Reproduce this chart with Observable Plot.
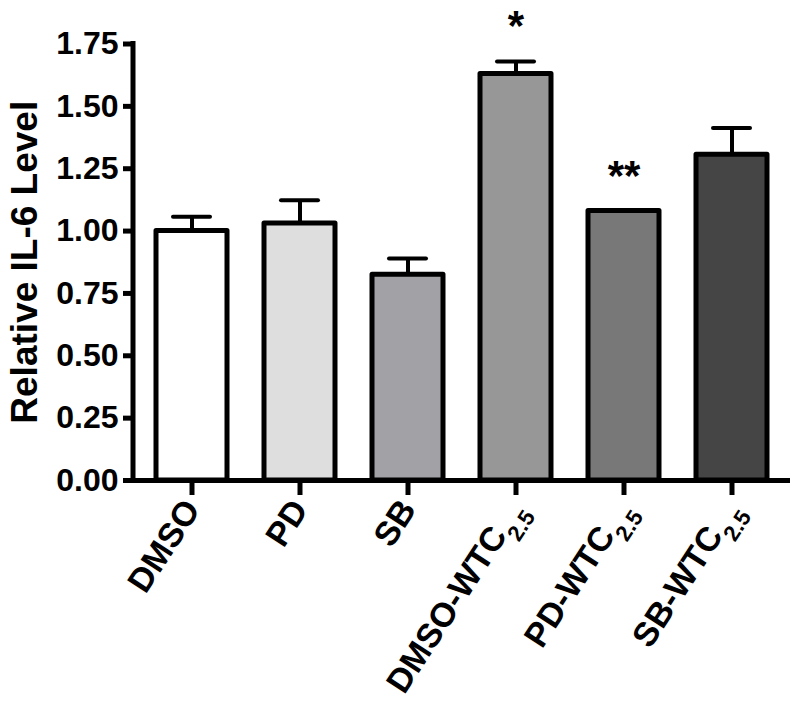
<!DOCTYPE html>
<html>
<head>
<meta charset="utf-8">
<script src="https://cdn.jsdelivr.net/npm/d3@7"></script>
<script src="https://cdn.jsdelivr.net/npm/@observablehq/plot@0.6"></script>
<style>
  html, body { margin: 0; padding: 0; background: #fff; }
</style>
</head>
<body>
<div id="chart"></div>
<script>
// ---- data ----
const categories = ["DMSO", "PD", "SB", "DMSO-WTC2.5", "PD-WTC2.5", "SB-WTC2.5"];
const values     = [1.00, 1.03, 0.825, 1.63, 1.08, 1.306];
const errors     = [0.057, 0.094, 0.065, 0.05, 0, 0.107];
const fills      = ["#ffffff", "#dedede", "#a2a2a6", "#979797", "#787878", "#454545"];
const signif     = ["", "", "", "*", "**", ""];
const yTicks     = [0, 0.25, 0.5, 0.75, 1.0, 1.25, 1.5, 1.75];
const yTitle     = "Relative IL-6 Level";

const rows = categories.map((c, i) => ({
  cat: c, value: values[i], err: errors[i], fill: fills[i], sig: signif[i],
  top: values[i] + errors[i]
}));
const errRows = rows.filter(d => d.err > 0);
const sigRows = rows.filter(d => d.sig !== "");

const FONT = "'Liberation Sans', Arial, Helvetica, sans-serif";

const yAxisLine = (index, scales, values, dims) => {
  const line = document.createElementNS("http://www.w3.org/2000/svg", "line");
  const x = dims.marginLeft;
  line.setAttribute("x1", x);
  line.setAttribute("x2", x);
  line.setAttribute("y1", scales.y(yTicks[yTicks.length - 1]));
  line.setAttribute("y2", scales.y(0));
  line.setAttribute("stroke", "black");
  line.setAttribute("stroke-width", 5);
  line.setAttribute("stroke-linecap", "square");
  return line;
};

const chart = Plot.plot({
  width: 800,
  height: 717,
  marginLeft: 133,
  marginRight: 10,
  marginTop: 43.5,
  marginBottom: 237,
  style: { fontFamily: FONT, fontWeight: "bold", background: "#fff", overflow: "visible" },
  x: { domain: categories, paddingInner: 0.34, paddingOuter: 0.185, label: null },
  y: { domain: [0, 1.75], label: null },
  marks: [
    Plot.barY(rows, {
      x: "cat", y: "value", fill: "fill",
      stroke: "black", strokeWidth: 5, strokeLinejoin: "round"
    }),
    Plot.ruleX(errRows, { x: "cat", y1: "value", y2: "top", stroke: "black", strokeWidth: 4 }),
    Plot.tickY(errRows, { x: "cat", y: "top", stroke: "black", strokeWidth: 4,
      strokeLinecap: "round", insetLeft: 17, insetRight: 17 }),
    Plot.text(sigRows, { x: "cat", y: "top", text: "sig", dy: -35, lineAnchor: "middle",
      fontSize: 42, fontWeight: "bold", fill: "black" }),
    Plot.ruleY([0], { stroke: "black", strokeWidth: 5 }),
    yAxisLine,
    Plot.axisY({ ticks: yTicks, tickFormat: d3.format(".2f"), tickSize: 10, tickPadding: 5,
      strokeWidth: 5, fontSize: 32, fontWeight: "bold", fill: "black", stroke: "black", label: null }),
    Plot.axisX({ tickSize: 15, tickPadding: 8, tickRotate: -57, strokeWidth: 5,
      fontSize: 34, fontWeight: "bold", fill: "black", stroke: "black", label: null }),
    Plot.text([yTitle], { frameAnchor: "left", dx: -123, rotate: -90, lineAnchor: "top",
      textAnchor: "middle", fontSize: 37, fontWeight: "bold", fill: "black" })
  ]
});

// render "WTC2.5" with a subscript
d3.select(chart).selectAll("text").each(function () {
  const t = this.textContent;
  const m = t.match(/^(.*WTC)(2\.5)$/);
  if (m) {
    const el = d3.select(this);
    el.text(null);
    el.append("tspan").text(m[1]);
    el.append("tspan").attr("font-size", "66%").attr("baseline-shift", "sub").text(m[2]);
  }
});

document.getElementById("chart").appendChild(chart);
</script>
</body>
</html>
